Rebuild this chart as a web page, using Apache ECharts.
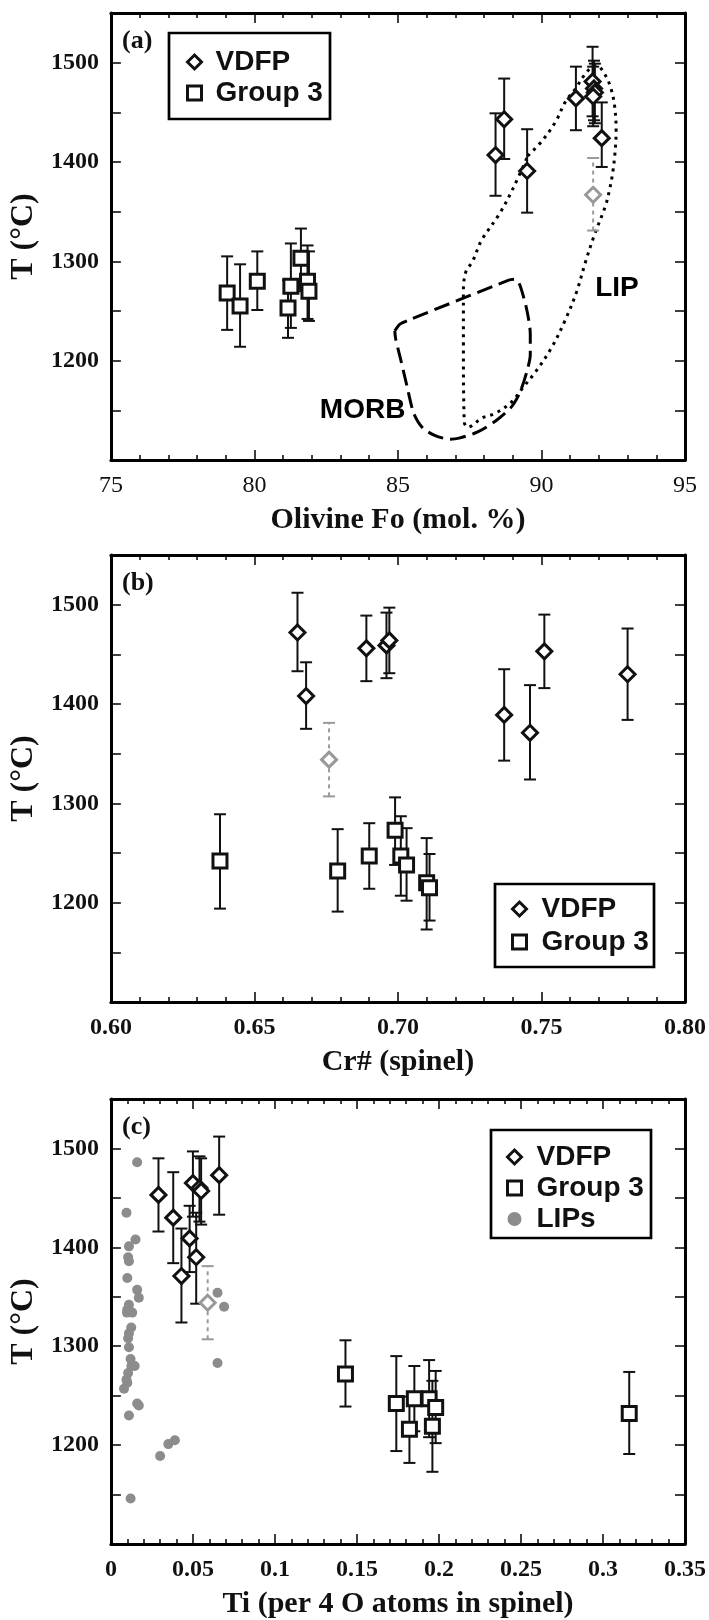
<!DOCTYPE html>
<html>
<head>
<meta charset="utf-8">
<script src="https://cdn.jsdelivr.net/npm/echarts@6/dist/echarts.min.js"></script>
<style>
html,body{margin:0;padding:0;background:#fff;}
#chart{width:709px;height:1620px;}
</style>
</head>
<body>
<div id="chart"></div>
<script>
// ---------- DATA ----------
// Panel (a): Olivine Fo vs T  [x, T, Tlow, Thigh]
const vdfpA = [
  [88.4, 1407, 1366, 1449],
  [88.7, 1443, 1403, 1484],
  [89.5, 1391, 1349, 1433],
  [91.2, 1464, 1432, 1496],
  [91.78, 1481, 1446, 1516],
  [91.83, 1474, 1442, 1502],
  [91.86, 1470, 1439, 1499],
  [91.80, 1466, 1436, 1496],
  [92.1, 1424, 1395, 1460]
];
const vdfpGreyA = [[91.8, 1367, 1331, 1404]];
const group3A = [
  [79.05, 1268, 1231, 1305],
  [79.5, 1255, 1214, 1297],
  [80.1, 1280, 1251, 1310],
  [81.17, 1253, 1223, 1281],
  [81.27, 1275, 1233, 1318],
  [81.62, 1303, 1270, 1333],
  [81.85, 1280, 1242, 1316],
  [81.9, 1270, 1240, 1310]
];
const lipFieldA = [
  [89.52,1406],[90.04,1422],[90.5,1441],[90.84,1461],[91.19,1474],[91.48,1487],
  [91.77,1496],[91.94,1497],[92.17,1490],[92.4,1476],[92.55,1456],[92.6,1432],
  [92.57,1412],[92.48,1389],[92.37,1372],[92.23,1356],[91.85,1327],[91.54,1300],
  [91.22,1269],[90.83,1241],[90.35,1213],[89.8,1189],[89.33,1172],[88.94,1158],
  [88.39,1147],[87.91,1142],[87.6,1135],[87.44,1133],[87.31,1138],[87.28,1217],
  [87.28,1269],[87.36,1289],[87.6,1300],[87.91,1321],[88.54,1348],[89.02,1374],
  [89.52,1406]
];
const morbFieldA = [
  [84.89,1230],[85.08,1237],[85.39,1241],[88.86,1281],[89.09,1282],[89.25,1276],
  [89.49,1251],[89.61,1227],[89.61,1206],[89.49,1189],[89.25,1168],[88.94,1153],
  [88.39,1139],[87.76,1128],[87.13,1122],[86.81,1121],[86.34,1124],[85.87,1132],
  [85.55,1147],[85.31,1175],[85.08,1203],[84.92,1222],[84.89,1230]
];
const fieldLabelNames = ['MORB', 'LIP'];
const fieldLabelPos = [[83.77, 1150], [92.63, 1273]];

// Panel (b): Cr# (spinel) vs T
const vdfpB = [
  [0.665, 1472, 1433, 1512],
  [0.668, 1408, 1375, 1442],
  [0.689, 1456, 1423, 1489],
  [0.696, 1459, 1426, 1492],
  [0.697, 1464, 1431, 1497],
  [0.737, 1389, 1343, 1435],
  [0.746, 1371, 1324, 1419],
  [0.751, 1453, 1416, 1490],
  [0.780, 1430, 1384, 1476]
];
const vdfpGreyB = [[0.676, 1344, 1307, 1381]];
const group3B = [
  [0.638, 1242, 1194, 1289],
  [0.679, 1232, 1191, 1274],
  [0.690, 1247, 1214, 1280],
  [0.699, 1273, 1238, 1306],
  [0.701, 1247, 1207, 1287],
  [0.703, 1238, 1202, 1275],
  [0.710, 1220, 1173, 1265],
  [0.711, 1215, 1182, 1249]
];

// Panel (c): Ti (per 4 O) vs T
const vdfpC = [
  [0.029, 1453, 1416, 1490],
  [0.038, 1430, 1384, 1476],
  [0.043, 1371, 1324, 1419],
  [0.048, 1409, 1375, 1442],
  [0.050, 1465, 1431, 1497],
  [0.052, 1390, 1343, 1435],
  [0.054, 1460, 1426, 1492],
  [0.055, 1457, 1423, 1490],
  [0.066, 1473, 1433, 1512]
];
const vdfpGreyC = [[0.059, 1344, 1307, 1381]];
const group3C = [
  [0.143, 1272, 1239, 1306],
  [0.174, 1242, 1194, 1290],
  [0.182, 1216, 1182, 1249],
  [0.185, 1247, 1214, 1280],
  [0.194, 1247, 1208, 1286],
  [0.196, 1219, 1173, 1265],
  [0.198, 1238, 1202, 1275],
  [0.316, 1232, 1191, 1274]
];
const lipsC = [
  [0.016,1486],[0.0095,1435],[0.015,1408],[0.011,1401],[0.0105,1390],[0.011,1386],
  [0.010,1369],[0.016,1357],[0.017,1349],[0.011,1342],[0.010,1337],[0.0098,1334],
  [0.013,1334],[0.0124,1319],[0.011,1313],[0.0105,1308],[0.011,1299],[0.012,1287],
  [0.0125,1280],[0.0145,1280],[0.0105,1273],[0.0095,1266],[0.010,1263],[0.008,1257],
  [0.016,1242],[0.017,1240],[0.011,1230],[0.035,1201],[0.039,1205],[0.030,1189],
  [0.065,1354],[0.069,1340],[0.065,1283],[0.012,1146]
];

// Axis ranges / ticks
const yRange = {min: 1100, max: 1550, interval: 50};
const yLabels = [1200, 1300, 1400, 1500];
const xA = {min: 75, max: 95, interval: 5};
const xB = {min: 0.6, max: 0.8, interval: 0.05};
const xC = {min: 0, max: 0.35, interval: 0.05};

// ---------- CHART ----------
const chart = echarts.init(document.getElementById('chart'), null, {renderer: 'canvas'});
const SERIF = '"Liberation Serif", "Times New Roman", serif';
const SANS = '"Liberation Sans", Arial, Helvetica, sans-serif';
const INK = '#111';
const GREY = '#8c8c8c';

const grids = [
  {left: 109, top: 13, width: 576, height: 447},
  {left: 109, top: 555, width: 576, height: 447},
  {left: 109, top: 1099, width: 576, height: 447}
];

function xAxisPair(gi, r, name, fmt, boldLabels) {
  const common = {
    type: 'value', gridIndex: gi, min: r.min, max: r.max, interval: r.interval,
    splitLine: {show: false},
    axisLine: {show: true, onZero: false, lineStyle: {color: '#000', width: 3}},
    axisTick: {show: true, inside: true, length: 10, lineStyle: {color: '#000', width: 1.5}},
    minorTick: {show: true, splitNumber: 5, length: 5, lineStyle: {color: '#000', width: 1.5}},
    minorSplitLine: {show: false}
  };
  return [
    Object.assign({}, common, {
      position: 'bottom',
      name: name, nameLocation: 'middle', nameGap: 45,
      nameTextStyle: {fontFamily: SERIF, fontWeight: 'bold', fontSize: 30, color: INK},
      axisLabel: {show: true, margin: 14, fontFamily: SERIF, fontWeight: boldLabels ? 'bold' : 'normal',
        fontSize: 24, color: INK, formatter: fmt, showMinLabel: true, showMaxLabel: true}
    }),
    Object.assign({}, common, {position: 'top', axisLabel: {show: false}})
  ];
}
function yAxisPair(gi) {
  const common = {
    type: 'value', gridIndex: gi, min: yRange.min, max: yRange.max, interval: yRange.interval,
    splitLine: {show: false},
    axisLine: {show: true, onZero: false, lineStyle: {color: '#000', width: 3}},
    axisTick: {show: true, inside: true, length: 10, lineStyle: {color: '#000', width: 1.5}}
  };
  return [
    Object.assign({}, common, {
      position: 'left',
      name: 'T (°C)', nameLocation: 'middle', nameGap: 66,
      nameTextStyle: {fontFamily: SERIF, fontWeight: 'bold', fontSize: 32, color: INK},
      axisLabel: {show: true, margin: 12, fontFamily: SERIF, fontWeight: 'bold', fontSize: 24, color: INK,
        formatter: v => (yLabels.indexOf(Math.round(v)) >= 0 ? String(Math.round(v)) : '')}
    }),
    Object.assign({}, common, {position: 'right', axisLabel: {show: false}})
  ];
}

function errRender(dashed) {
  return function (params, api) {
    const x = api.value(0), lo = api.value(2), hi = api.value(3);
    const p1 = api.coord([x, lo]), p2 = api.coord([x, hi]);
    const w = 6;
    const col = dashed ? '#9a9a9a' : INK;
    const st = {stroke: col, lineWidth: 2, lineDash: dashed ? [4, 4] : null};
    const cap = {stroke: col, lineWidth: 2};
    return {type: 'group', children: [
      {type: 'line', shape: {x1: p1[0], y1: p1[1], x2: p2[0], y2: p2[1]}, style: st},
      {type: 'line', shape: {x1: p1[0] - w, y1: p1[1], x2: p1[0] + w, y2: p1[1]}, style: cap},
      {type: 'line', shape: {x1: p2[0] - w, y1: p2[1], x2: p2[0] + w, y2: p2[1]}, style: cap}
    ]};
  };
}

function panelSeries(ai, vdfp, grey, g3) {
  const ax = {xAxisIndex: ai * 2, yAxisIndex: ai * 2};
  return [
    Object.assign({type: 'custom', name: 'errG3', renderItem: errRender(false), data: g3,
      encode: {x: 0, y: [2, 3]}, z: 2, silent: true}, ax),
    Object.assign({type: 'custom', name: 'errV', renderItem: errRender(false), data: vdfp,
      encode: {x: 0, y: [2, 3]}, z: 2, silent: true}, ax),
    Object.assign({type: 'custom', name: 'errGrey', renderItem: errRender(true), data: grey,
      encode: {x: 0, y: [2, 3]}, z: 2, silent: true}, ax),
    Object.assign({type: 'scatter', name: 'Group 3', symbol: 'rect', symbolSize: 14,
      data: g3.map(d => [d[0], d[1]]),
      itemStyle: {color: '#fff', borderColor: INK, borderWidth: 3, opacity: 1}, z: 4}, ax),
    Object.assign({type: 'scatter', name: 'VDFP', symbol: 'diamond', symbolSize: 15,
      data: vdfp.map(d => [d[0], d[1]]),
      itemStyle: {color: '#fff', borderColor: INK, borderWidth: 3, opacity: 1}, z: 5}, ax),
    Object.assign({type: 'scatter', name: 'VDFP (grey)', symbol: 'diamond', symbolSize: 15,
      data: grey.map(d => [d[0], d[1]]),
      itemStyle: {color: '#fff', borderColor: '#999', borderWidth: 3, opacity: 1}, z: 5}, ax)
  ];
}

function legendFor(left, top, gap, pad, names) {
  const styles = {
    'VDFP': {icon: 'diamond', itemStyle: {color: '#fff', borderColor: INK, borderWidth: 3}},
    'Group 3': {icon: 'rect', itemStyle: {color: '#fff', borderColor: INK, borderWidth: 3}},
    'LIPs': {icon: 'path://M0,0 m-5,0 a5,5 0 1,0 10,0 a5,5 0 1,0 -10,0 Z', itemStyle: {color: GREY, borderWidth: 0}}
  };
  return {
    orient: 'vertical', left: left, top: top, padding: 0, itemGap: gap,
    itemWidth: 14, itemHeight: 14, selectedMode: false,
    textStyle: {fontFamily: SANS, fontWeight: 'bold', fontSize: 28, color: INK, lineHeight: 28, padding: [0, 0, 0, pad]},
    data: names.map(n => Object.assign({name: n}, styles[n]))
  };
}

const option = {
  animation: false,
  backgroundColor: '#fff',
  grid: grids,
  xAxis: [].concat(
    xAxisPair(0, xA, 'Olivine Fo (mol. %)', v => String(v), false),
    xAxisPair(1, xB, 'Cr# (spinel)', v => v.toFixed(2), true),
    xAxisPair(2, xC, 'Ti (per 4 O atoms in spinel)', v => String(parseFloat(v.toFixed(2))), true)
  ),
  yAxis: [].concat(yAxisPair(0), yAxisPair(1), yAxisPair(2)),
  legend: [
    legendFor(186, 48, 3, 9, ['VDFP', 'Group 3']),
    legendFor(511, 895, 5, 10, ['VDFP', 'Group 3']),
    legendFor(506, 1143, 3, 10, ['VDFP', 'Group 3', 'LIPs'])
  ],
  graphic: [
    {type: 'rect', shape: {x: 169, y: 33, width: 161, height: 86}, style: {fill: 'none', stroke: '#000', lineWidth: 2.7}, z: 10},
    {type: 'rect', shape: {x: 495, y: 884, width: 159, height: 83}, style: {fill: 'none', stroke: '#000', lineWidth: 2.7}, z: 10},
    {type: 'rect', shape: {x: 491, y: 1130, width: 160, height: 108}, style: {fill: 'none', stroke: '#000', lineWidth: 2.7}, z: 10},
    {type: 'text', left: 122, top: 28, style: {text: '(a)', font: 'bold 26px ' + SERIF, fill: INK}},
    {type: 'text', left: 122, top: 570, style: {text: '(b)', font: 'bold 26px ' + SERIF, fill: INK}},
    {type: 'text', left: 122, top: 1114, style: {text: '(c)', font: 'bold 26px ' + SERIF, fill: INK}}
  ],
  series: [].concat(
    [
      {type: 'line', name: 'LIP field', xAxisIndex: 0, yAxisIndex: 0, data: lipFieldA, showSymbol: false,
        symbol: 'none', smooth: 0.35, lineStyle: {color: '#000', width: 3, type: [3, 5]}, z: 1, silent: true},
      {type: 'line', name: 'MORB field', xAxisIndex: 0, yAxisIndex: 0, data: morbFieldA, showSymbol: false,
        symbol: 'none', smooth: 0.25, lineStyle: {color: '#000', width: 3, type: [16, 7]}, z: 1, silent: true}
    ],
    panelSeries(0, vdfpA, vdfpGreyA, group3A),
    panelSeries(1, vdfpB, vdfpGreyB, group3B),
    panelSeries(2, vdfpC, vdfpGreyC, group3C),
    [
      {type: 'scatter', name: 'LIPs', xAxisIndex: 4, yAxisIndex: 4, symbol: 'circle', symbolSize: 10,
        data: lipsC, itemStyle: {color: GREY, opacity: 1}, z: 3}
    ]
  )
};
chart.setOption(option);

// Field labels placed through the axis scales of panel (a)
const extraText = fieldLabelNames.map((n, i) => {
  const p = chart.convertToPixel({xAxisIndex: 0, yAxisIndex: 0}, fieldLabelPos[i]);
  return {type: 'text', x: p[0], y: p[1], z: 20,
    style: {text: n, font: 'bold 28px ' + SANS, fill: '#000', align: 'center', verticalAlign: 'middle'}};
});
chart.setOption({graphic: option.graphic.concat(extraText)});
</script>
</body>
</html>
